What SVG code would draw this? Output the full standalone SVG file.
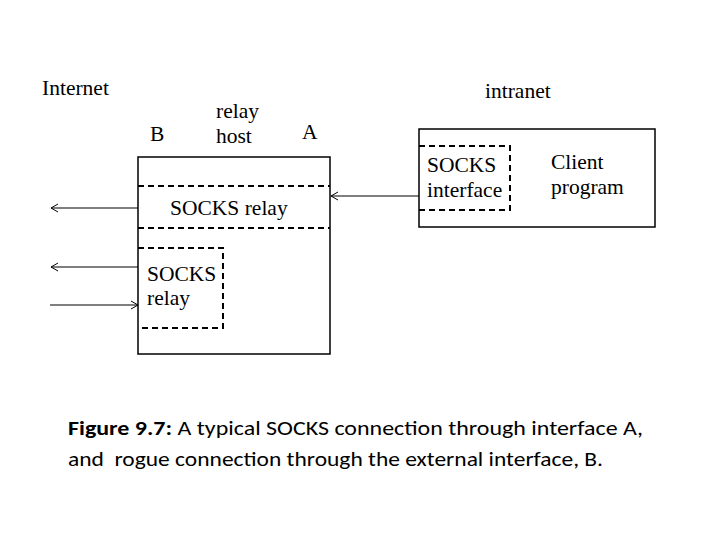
<svg xmlns="http://www.w3.org/2000/svg" width="720" height="540" viewBox="0 0 720 540">
<defs>
<style>
.t{font-family:"Liberation Serif","Times New Roman",serif;font-size:21.5px;fill:#000}
.box{fill:none;stroke:#000;stroke-width:1.5}
.dash{fill:none;stroke:#000;stroke-width:2;stroke-dasharray:6 4}
.ln{stroke:#000;stroke-width:1.2;fill:none;marker-end:url(#ah)}
.cap{font-family:Carlito,Calibri,"Liberation Sans",sans-serif;font-size:20px;fill:#000}
</style>
<marker id="ah" markerWidth="10" markerHeight="10" refX="8" refY="5" orient="auto" markerUnits="userSpaceOnUse">
<polyline points="1,1 8,5 1,9" fill="none" stroke="#000" stroke-width="1"/>
</marker>
</defs>
<rect width="720" height="540" fill="#fff"/>
<text class="t" x="42" y="95">Internet</text>
<text class="t" x="485" y="98">intranet</text>
<g id="relay-host">
<rect class="box" x="138" y="157" width="192" height="197"/>
<text class="t" x="216" y="118">relay</text>
<text class="t" x="216" y="143">host</text>
<text class="t" x="150" y="141">B</text>
<text class="t" x="302" y="139">A</text>
</g>
<g id="socks-relay-a">
<line class="dash" x1="138" y1="186" x2="330" y2="186"/>
<line class="dash" x1="138" y1="228" x2="330" y2="228"/>
<text class="t" x="170" y="215">SOCKS relay</text>
</g>
<g id="socks-relay-b">
<polyline class="dash" points="138,248 223,248 223,328 138,328"/>
<text class="t" x="147" y="281">SOCKS</text>
<text class="t" x="147" y="305">relay</text>
</g>
<g id="client">
<rect class="box" x="419" y="129" width="236" height="98"/>
<polyline class="dash" points="419,146 510,146 510,210 419,210"/>
<text class="t" x="427" y="172">SOCKS</text>
<text class="t" x="427" y="197">interface</text>
<text class="t" x="551" y="169">Client</text>
<text class="t" x="551" y="194">program</text>
</g>
<g id="connectors">
<line class="ln" x1="419" y1="196" x2="331" y2="196"/>
<line class="ln" x1="138" y1="208" x2="51" y2="208"/>
<line class="ln" x1="138" y1="267" x2="51" y2="267"/>
<line class="ln" x1="50" y1="305" x2="138" y2="305"/>
</g>
<text class="cap" x="68" y="435" textLength="575" lengthAdjust="spacingAndGlyphs"><tspan font-weight="bold">Figure 9.7:</tspan> A typical SOCKS connection through interface A,</text>
<text class="cap" x="68" y="466" textLength="535" lengthAdjust="spacingAndGlyphs" xml:space="preserve">and  rogue connection through the external interface, B.</text>
</svg>
